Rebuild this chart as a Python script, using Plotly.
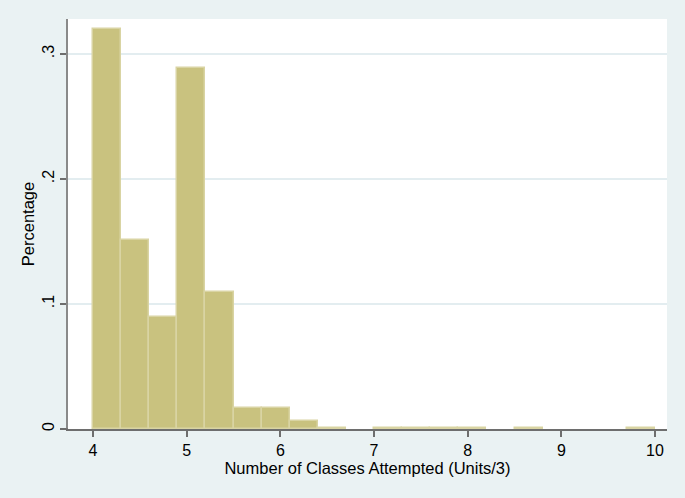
import plotly.graph_objects as go

bin_starts = [4.0, 4.3, 4.6, 4.9, 5.2, 5.5, 5.8, 6.1, 6.4, 6.7,
              7.0, 7.3, 7.6, 7.9, 8.2, 8.5, 8.8, 9.1, 9.4, 9.7]
shares = [0.320, 0.151, 0.090, 0.289, 0.110, 0.017, 0.017, 0.0066, 0.0012, 0.0,
          0.0012, 0.0012, 0.0012, 0.0012, 0.0, 0.0012, 0.0, 0.0, 0.0, 0.0012]
bin_width = 0.3
x_ticks = [4, 5, 6, 7, 8, 9, 10]
y_ticks = [0, 0.1, 0.2, 0.3]
y_labels = ["0", ".1", ".2", ".3"]

font = "Liberation Sans, Arial, sans-serif"

plot_x = [b for b, s in zip(bin_starts, shares) if s > 0]
plot_y = [s for s in shares if s > 0]

fig = go.Figure(go.Bar(
    x=plot_x, y=plot_y, width=bin_width, offset=0,
    marker=dict(color="#C9C27F", line=dict(color="#D9D4A3", width=1.5)),
    hoverinfo="skip",
))

fig.update_layout(
    width=685, height=498,
    margin=dict(l=68, r=18, t=19, b=69),
    paper_bgcolor="#EAF2F3", plot_bgcolor="#FFFFFF",
    showlegend=False, bargap=0,
    font=dict(family=font, size=16, color="#000000"),
    shapes=[dict(type="line", xref="paper", yref="paper", x0=-0.011, x1=0,
                 y0=0, y1=0, line=dict(color="#6E6E6E", width=1.5))],
)
fig.update_xaxes(
    range=[3.733, 10.128], tickvals=x_ticks, ticktext=[str(t) for t in x_ticks],
    showgrid=False, zeroline=False, showline=True, linecolor="#6E6E6E", linewidth=1.5,
    ticks="outside", ticklen=6, tickcolor="#6E6E6E", tickwidth=1.5,
    tickfont=dict(size=16),
    title=dict(text="Number of Classes Attempted (Units/3)", font=dict(size=16.5), standoff=1),
)
fig.update_yaxes(
    range=[0, 0.328], tickvals=y_ticks, ticktext=y_labels, tickangle=-90,
    showgrid=True, gridcolor="#E3EDF0", gridwidth=2, zeroline=False,
    showline=True, linecolor="#8A8A8A", linewidth=1.5,
    ticks="outside", ticklen=6, tickcolor="#6E6E6E", tickwidth=1.5,
    tickfont=dict(size=16),
    title=dict(text="Percentage", font=dict(size=16.5), standoff=1),
)

fig.write_html("out.html", config={"displayModeBar": False},
               post_script="document.body.style.margin='0';")
